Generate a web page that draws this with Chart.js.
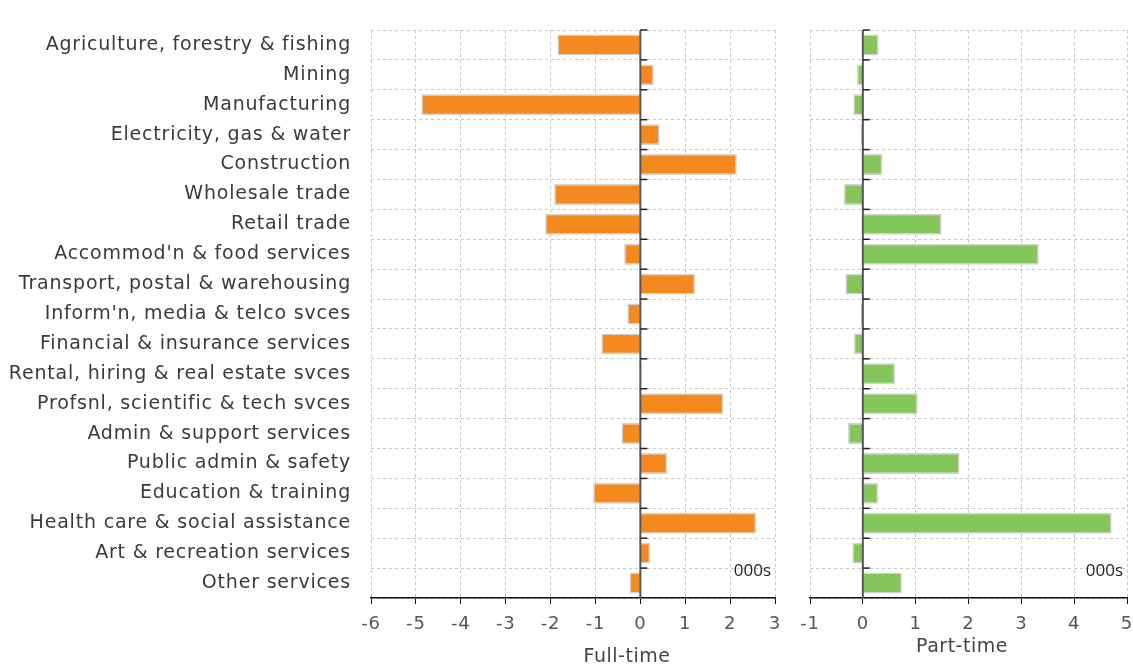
<!DOCTYPE html>
<html>
<head>
<meta charset="utf-8">
<script src="https://cdn.jsdelivr.net/npm/chart.js@4.4.1/dist/chart.umd.min.js"></script>
<style>
  html, body { margin: 0; padding: 0; background: #fff; }
  #wrap { position: relative; width: 1133px; height: 666px; overflow: hidden; }
  .pane { position: absolute; top: 0; }
  .axTitle { position: absolute; font-family: "DejaVu Sans", sans-serif; font-size: 19px; color: #444; transform: translate(-50%, -50%); white-space: nowrap; letter-spacing: 0.5px; }
</style>
</head>
<body>
<div id="wrap">
  <div class="pane" style="left:0;width:795px;height:666px"><canvas id="ftChart" width="795" height="666"></canvas></div>
  <div class="pane" style="left:795px;width:338px;height:666px"><canvas id="ptChart" width="338" height="666"></canvas></div>
  <div class="axTitle" style="left:627px;top:655px">Full-time</div>
  <div class="axTitle" style="left:962px;top:645px">Part-time</div>
</div>
<script>
const categories = [
  'Agriculture, forestry & fishing',
  'Mining',
  'Manufacturing',
  'Electricity, gas & water',
  'Construction',
  'Wholesale trade',
  'Retail trade',
  "Accommod'n & food services",
  'Transport, postal & warehousing',
  "Inform'n, media & telco svces",
  'Financial & insurance services',
  'Rental, hiring & real estate svces',
  'Profsnl, scientific & tech svces',
  'Admin & support services',
  'Public admin & safety',
  'Education & training',
  'Health care & social assistance',
  'Art & recreation services',
  'Other services'
];

// change, 000s
const fullTime = [-1.85, 0.30, -4.88, 0.43, 2.15, -1.92, -2.12, -0.36, 1.22, -0.29, -0.87, 0.03, 1.85, -0.42, 0.60, -1.05, 2.58, 0.22, -0.24];
const partTime = [0.30, -0.11, -0.18, -0.04, 0.37, -0.36, 1.49, 3.33, -0.33, -0.04, -0.17, 0.61, 1.04, -0.28, 1.83, 0.29, 4.71, -0.20, 0.74];

const ftRange = [-6, 3];
const ptRange = [-1, 5];

const labelFont = { family: '"DejaVu Sans", sans-serif', size: 19 };
const tickFont = { family: '"DejaVu Sans", sans-serif', size: 18 };

// wider text for the axis labels, like the original face
const spacing = {
  id: 'spacing',
  beforeDraw(chart) { chart.ctx.letterSpacing = '0.8px'; },
  beforeDatasetsDraw(chart) { chart.ctx.letterSpacing = '0px'; }
};

// zero line, little marks on it and the units note
const zeroLine = {
  id: 'zeroLine',
  afterDatasetsDraw(chart) {
    const { ctx, chartArea, scales: { x, y } } = chart;
    const x0 = x.getPixelForValue(0);
    ctx.save();
    ctx.strokeStyle = '#555';
    ctx.lineWidth = 2;
    ctx.beginPath();
    ctx.moveTo(x0, chartArea.top);
    ctx.lineTo(x0, chartArea.bottom);
    ctx.stroke();
    ctx.strokeStyle = '#222';
    ctx.lineWidth = 1.5;
    const half = (y.getPixelForValue(1) - y.getPixelForValue(0)) / 2;
    for (let i = 0; i < chart.data.labels.length; i++) {
      const yy = y.getPixelForValue(i) - half;
      ctx.beginPath();
      ctx.moveTo(x0, yy);
      ctx.lineTo(x0 + 7, yy);
      ctx.stroke();
    }
    ctx.fillStyle = '#222';
    ctx.font = '17px "Open Sans", sans-serif';
    ctx.textAlign = 'right';
    ctx.textBaseline = 'middle';
    ctx.fillText('000s', chartArea.right - 4, chartArea.bottom - 27);
    ctx.restore();
  }
};

function makeChart(id, values, color, range, yWidth, showLabels, padRight) {
  return new Chart(document.getElementById(id), {
    type: 'bar',
    data: {
      labels: categories,
      datasets: [{
        data: values,
        backgroundColor: color,
        borderColor: '#d2d2d2',
        borderWidth: 1.5,
        barPercentage: 0.7,
        categoryPercentage: 1
      }]
    },
    options: {
      indexAxis: 'y',
      responsive: false,
      animation: false,
      devicePixelRatio: 1,
      layout: { padding: { top: 30, right: padRight, bottom: 0, left: 0 } },
      plugins: { legend: { display: false }, tooltip: { enabled: false } },
      scales: {
        x: {
          min: range[0],
          max: range[1],
          ticks: { stepSize: 1, color: '#555', font: tickFont, padding: 10 },
          grid: { color: '#c8c8c8', tickColor: '#111', tickLength: 6, tickBorderDash: [] },
          border: { display: true, color: '#111', width: 1.5, dash: [3, 3] },
          afterFit: s => { s.height = 68; s.paddingLeft = 0; s.paddingRight = 0; }
        },
        y: {
          ticks: { display: showLabels, color: '#3a3a3a', font: labelFont, padding: 20, autoSkip: false },
          grid: { color: '#c8c8c8', drawTicks: false, offset: true },
          border: { display: false, dash: [3, 3] },
          afterFit: s => { s.width = yWidth; s.paddingTop = 0; s.paddingBottom = 0; }
        }
      }
    },
    plugins: [spacing, zeroLine]
  });
}

makeChart('ftChart', fullTime, '#f4891f', ftRange, 371, true, 20);
makeChart('ptChart', partTime, '#84c65a', ptRange, 15, false, 6);
</script>
</body>
</html>
